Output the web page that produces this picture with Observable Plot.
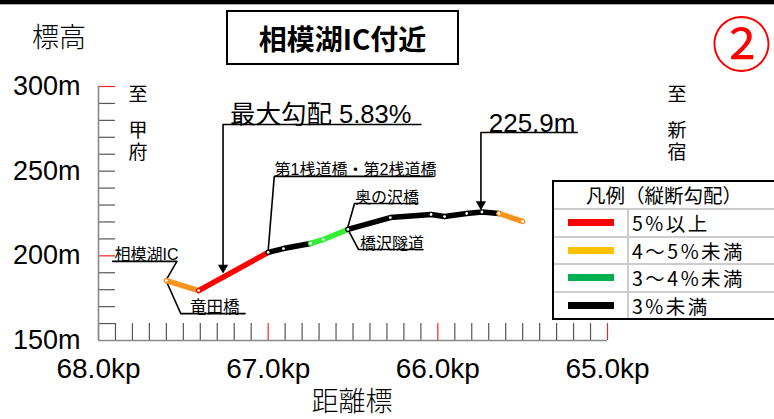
<!DOCTYPE html>
<html><head><meta charset="utf-8">
<script src="https://cdn.jsdelivr.net/npm/d3@7"></script>
<script src="https://cdn.jsdelivr.net/npm/@observablehq/plot@0.6"></script>
<style>
body{margin:0;background:#fff;}
#wrap{position:relative;width:774px;height:419px;overflow:hidden;font-family:"Noto Sans CJK JP",sans-serif;color:#000;}
#topbar{position:absolute;left:0;top:0;width:774px;height:4px;background:#000;border-bottom:1px solid #aaa;z-index:2;}
#chart{position:absolute;left:0;top:0;}
.ylab{position:absolute;left:32px;top:22px;font-size:27px;font-weight:300;line-height:1;}
.xlab{position:absolute;left:292px;top:386px;width:120px;text-align:center;font-size:27px;font-weight:300;line-height:1;}
#title{position:absolute;left:226px;top:10px;width:229px;height:51px;border:2px solid #000;display:flex;align-items:center;justify-content:center;font-size:28px;font-weight:bold;}
#num{position:absolute;left:710px;top:10px;width:63px;height:62px;display:flex;justify-content:center;align-items:center;font-size:60px;color:#f00;line-height:62px;}
.dir{position:absolute;font-size:19px;line-height:1;width:20px;text-align:center;}
.dir span{display:block;}
#legend{position:absolute;left:552px;top:180px;width:220px;border:2px solid #000;background:#fff;}
#legend .lh{height:26px;line-height:26px;font-size:19.5px;text-align:center;}
#legend .row{display:flex;height:25.5px;border-top:2px solid #ccc;}
#legend .sw{width:73px;border-right:2px solid #ccc;display:flex;align-items:center;justify-content:center;}
#legend .sw i{display:block;width:46px;height:7px;}
#legend .tx{padding-left:3px;line-height:26px;font-size:19.5px;letter-spacing:2.5px;}
</style></head>
<body>
<div id="wrap">
  <div id="topbar"></div>
  <div id="chart"></div>
  <div class="ylab">標高</div>
  <div class="xlab">距離標</div>
  <div id="title">相模湖IC付近</div>
  <div id="num">②</div>
  <div class="dir" style="left:128px;top:83px;"><span>至</span><span style="margin-top:17px">甲</span><span style="margin-top:3px">府</span></div>
  <div class="dir" style="left:667px;top:83px;"><span>至</span><span style="margin-top:17px">新</span><span style="margin-top:3px">宿</span></div>
  <div id="legend"><div class="lh">凡例（縦断勾配）</div></div>
</div>
<script>
// ---- data ----
const kp   = [67.60, 67.41, 67.00, 66.91, 66.75, 66.675, 66.53, 66.28, 66.04, 65.96, 65.83, 65.74, 65.64, 65.50];
const elev = [185.4, 179.5, 202.0, 204.3, 207.3, 209.6, 215.6, 222.6, 224.4, 223.2, 225.0, 225.9, 225.0, 220.3];
const segClass = ["4～5%未満","5%以上","3%未満","3%未満","3～4%未満","3～4%未満","3%未満","3%未満","3%未満","3%未満","3%未満","3%未満","4～5%未満"];
const classes = ["5%以上","4～5%未満","3～4%未満","3%未満"];
const lineColors = ["#ff0000","#f7941d","#33ee33","#000000"];
const legendColors = ["#ff0000","#ffc000","#00b050","#000000"];

const yTicks = [160,170,180,190,200,210,220,230,240,250,260,270,280,290,300];
const yRedTicks = [200,300];
const yLabels = [150,200,250,300];
const xTicks = [68.0,67.9,67.8,67.7,67.6,67.5,67.4,67.3,67.2,67.1,67.0,66.9,66.8,66.7,66.6,66.5,66.4,66.3,66.2,66.1,66.0,65.9,65.8,65.7,65.6,65.5,65.4,65.3,65.2,65.1,65.0];
const xRedTicks = [67.0,66.0,65.0];
const xLabels = [68.0,67.0,66.0,65.0];

// annotation leaders (kp, elev) polylines
const leaderNames = ["相模湖IC","竜田橋","最大勾配","第1桟道橋","奥の沢橋","橋沢隧道","225.9m"];
const leaderKp = [[67.917,67.538,67.600],[67.600,67.515,67.136],[66.100,67.266,67.266],[66.030,66.964,67.000],[66.118,66.491,66.533],[66.527,66.467,66.089],[65.178,65.746,65.746]];
const leaderElev = [[196.7,196.7,186.0],[185.0,165.9,165.9],[277.6,277.6,192.0],[246.9,246.9,203.2],[230.9,230.9,216.1],[215.0,203.7,203.7],[272.8,272.8,229.0]];
const arrowKp = [67.266, 65.746];
const arrowElev = [189.6, 227.0];

const labelText = ["相模湖IC","竜田橋","最大勾配 5.83%","第1桟道橋・第2桟道橋","奥の沢橋","橋沢隧道","225.9m"];
const labelKp   = [67.905, 67.46, 67.225, 66.962, 66.488, 66.459, 65.700];
const labelElev = [196.7, 165.9, 277.6, 246.9, 230.9, 203.7, 272.8];
const labelSize = [16, 16.5, 25.5, 16, 16, 16, 26];

// ---- build tables ----
const profile = [];
let run = 0;
for (let i = 0; i < segClass.length; i++) {
  if (i > 0 && segClass[i] !== segClass[i-1]) run++;
  if (i === 0 || segClass[i] !== segClass[i-1]) profile.push({kp: kp[i], elev: elev[i], cls: segClass[i], run});
  profile.push({kp: kp[i+1], elev: elev[i+1], cls: segClass[i], run});
}
const vertices = kp.map((k, i) => ({kp: k, elev: elev[i]}));
const leaders = [];
leaderNames.forEach((n, j) => leaderKp[j].forEach((k, i) => leaders.push({name: n, kp: k, elev: leaderElev[j][i]})));
const arrows = arrowKp.map((k, i) => ({kp: k, elev: arrowElev[i]}));
const labels = labelText.map((t, i) => ({t, kp: labelKp[i], elev: labelElev[i], size: labelSize[i]}));

const chart = Plot.plot({
  width: 774, height: 419,
  marginLeft: 98, marginRight: 167, marginTop: 86, marginBottom: 79,
  style: {fontFamily: "'Liberation Sans', Arial, sans-serif", background: "transparent", color: "#000"},
  x: {domain: [68, 65], axis: null},
  y: {domain: [150, 300], axis: null},
  color: {domain: classes, range: lineColors},
  marks: [
    Plot.ruleY(yTicks, {y: d => d, x1: 68, x2: 67.9, stroke: d => yRedTicks.includes(d) ? "#ff2020" : "#555", strokeWidth: 1.2}),
    Plot.ruleX(xTicks, {x: d => d, y1: 150, y2: 160, stroke: d => xRedTicks.includes(d) ? "#ff2020" : "#555", strokeWidth: 1.2}),
    Plot.ruleX([68], {y1: 150, y2: 300, stroke: "#888", strokeWidth: 1.6}),
    Plot.ruleY([150], {x1: 68, x2: 65, stroke: "#888", strokeWidth: 1.6}),
    Plot.axisY({ticks: yLabels, tickSize: 0, tickPadding: 18, tickFormat: d => d + "m", fontSize: 27, label: null}),
    Plot.axisX({ticks: xLabels, tickSize: 0, tickPadding: 18, tickFormat: d => d.toFixed(1) + "kp", fontSize: 28, label: null}),
    Plot.line(leaders, {x: "kp", y: "elev", z: "name", stroke: "#000", strokeWidth: 1.6}),
    Plot.dot(arrows, {x: "kp", y: "elev", symbol: "triangle", rotate: 180, r: 3.8, fill: "#000", dy: -5.8}),
    Plot.line(profile, {x: "kp", y: "elev", z: "run", stroke: "cls", strokeWidth: 5.5}),
    Plot.dot(vertices, {x: "kp", y: "elev", r: 1.4, fill: "#fff"}),
    Plot.text(labels, {x: "kp", y: "elev", text: "t", fontSize: "size", textAnchor: "start", lineAnchor: "bottom", dy: -1, fontFamily: "'Liberation Sans', 'Noto Sans CJK JP', sans-serif"})
  ]
});
document.getElementById("chart").appendChild(chart);

// legend
const lg = document.getElementById("legend");
classes.forEach((c, i) => {
  const row = document.createElement("div");
  row.className = "row";
  row.innerHTML = `<div class="sw"><i style="background:${legendColors[i]}"></i></div><div class="tx">${c}</div>`;
  lg.appendChild(row);
});
</script>
</body></html>
